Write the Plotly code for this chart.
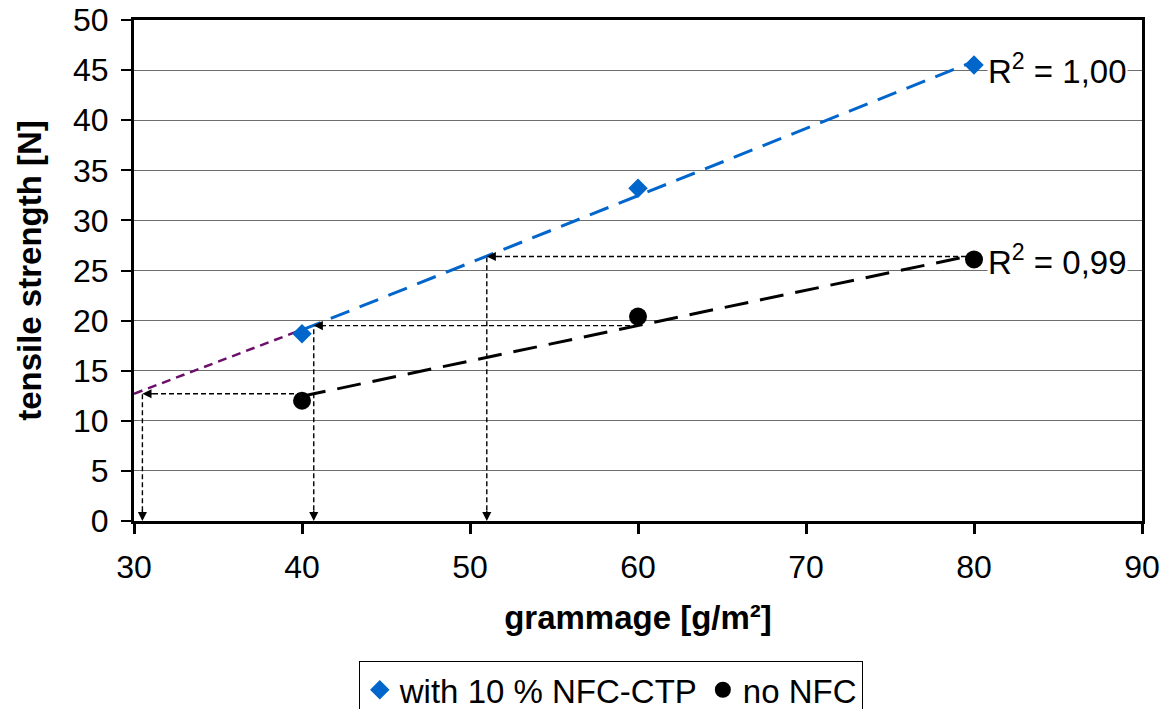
import numpy as np
import plotly.graph_objects as go

# ---- data ----
grammage = [40, 60, 80]
with_nfc = [18.7, 33.2, 45.5]
no_nfc = [12.0, 20.4, 26.1]

# backward extension of the NFC trend (purple dotted)
ext_x = [30, 40]
ext_y = [12.7, 19.1]

# guide arrows: start on no-NFC trend, go left to NFC trend, then down
guide_y = [12.7, 19.5, 26.4]
guide_from_x = [40, 60, 80]
guide_to_x = [30.5, 40.7, 51.0]

r2_labels = ["R<sup>2</sup> = 1,00", "R<sup>2</sup> = 0,99"]
r2_y = [45.1, 26.0]

x_ticks = [30, 40, 50, 60, 70, 80, 90]
y_ticks = [0, 5, 10, 15, 20, 25, 30, 35, 40, 45, 50]

BLUE = "#0066CC"
FONT = "Liberation Sans, Arial, sans-serif"

# linear trendlines (as Excel)
tx = np.array([grammage[0], grammage[-1]], dtype=float)
pb = np.polyfit(grammage, with_nfc, 1)
pk = np.polyfit(grammage, no_nfc, 1)

fig = go.Figure()

# guide dashed lines
gx, gy = [], []
for y0, xf, xt in zip(guide_y, guide_from_x, guide_to_x):
    gx += [xf, xt, xt, None]
    gy += [y0, y0, 0, None]
fig.add_trace(go.Scatter(x=gx, y=gy, mode="lines", showlegend=False, hoverinfo="skip",
                         line=dict(color="black", width=1.4, dash="5px,3px")))

# purple extension
fig.add_trace(go.Scatter(x=ext_x, y=ext_y, mode="lines", showlegend=False, hoverinfo="skip",
                         line=dict(color="#6B0F6B", width=2.5, dash="9px,6px")))

# trendlines
fig.add_trace(go.Scatter(x=tx, y=np.polyval(pb, tx), mode="lines", showlegend=False,
                         line=dict(color=BLUE, width=3, dash="20px,11px")))
fig.add_trace(go.Scatter(x=tx, y=np.polyval(pk, tx), mode="lines", showlegend=False,
                         line=dict(color="black", width=3, dash="24px,12px")))

# data points
fig.add_trace(go.Scatter(x=grammage, y=with_nfc, mode="markers", name="with 10 % NFC-CTP",
                         marker=dict(symbol="diamond", color=BLUE, size=15)))
fig.add_trace(go.Scatter(x=grammage, y=no_nfc, mode="markers", name="no NFC",
                         marker=dict(symbol="circle", color="black", size=18)))

anns = []
# arrowheads at the ends of the guide lines
for y0, xt in zip(guide_y, guide_to_x):
    anns.append(dict(x=xt, y=y0, xref="x", yref="y", ax=12, ay=0, text="", showarrow=True,
                     arrowhead=2, arrowsize=1.3, arrowwidth=1.4, arrowcolor="black", standoff=0))
    anns.append(dict(x=xt, y=0, xref="x", yref="y", ax=0, ay=-12, text="", showarrow=True,
                     arrowhead=2, arrowsize=1.3, arrowwidth=1.4, arrowcolor="black", standoff=0))
for lab, yy in zip(r2_labels, r2_y):
    anns.append(dict(x=80.75, y=yy, xref="x", yref="y", text=lab, showarrow=False,
                     xanchor="left", yanchor="middle", bgcolor="white", borderpad=0,
                     font=dict(family=FONT, size=33, color="black")))

fig.update_layout(
    width=1164, height=709,
    margin=dict(l=134, r=22, t=20, b=188, autoexpand=False),
    paper_bgcolor="white", plot_bgcolor="white",
    font=dict(family=FONT, size=32, color="black"),
    annotations=anns,
    legend=dict(orientation="h", x=0.223, xanchor="left", y=-0.279, yanchor="top",
                bordercolor="black", borderwidth=1, bgcolor="white",
                font=dict(family=FONT, size=33, color="black"),
                itemwidth=30, tracegroupgap=0),
)
fig.update_xaxes(range=[30, 90], tickvals=x_ticks, showgrid=False, zeroline=False, automargin=False,
                 showline=True, linecolor="black", linewidth=3, mirror=True,
                 ticks="outside", ticklen=10, tickwidth=3, tickcolor="black", ticklabelstandoff=6,
                 tickfont=dict(family=FONT, size=32, color="black"),
                 title=dict(text="<b>grammage [g/m²]</b>", standoff=22,
                            font=dict(family=FONT, size=33, color="black")))
fig.update_yaxes(range=[0, 50], tickvals=y_ticks, showgrid=True, gridcolor="#6e6e6e", gridwidth=1,
                 zeroline=False, automargin=False,
                 showline=True, linecolor="black", linewidth=3, mirror=True,
                 ticks="outside", ticklen=10, tickwidth=2, tickcolor="black", ticklabelstandoff=6,
                 tickfont=dict(family=FONT, size=32, color="black"),
                 title=dict(text="<b>tensile strength [N]</b>", standoff=22,
                            font=dict(family=FONT, size=33, color="black")))

fig.write_html("out.html")
